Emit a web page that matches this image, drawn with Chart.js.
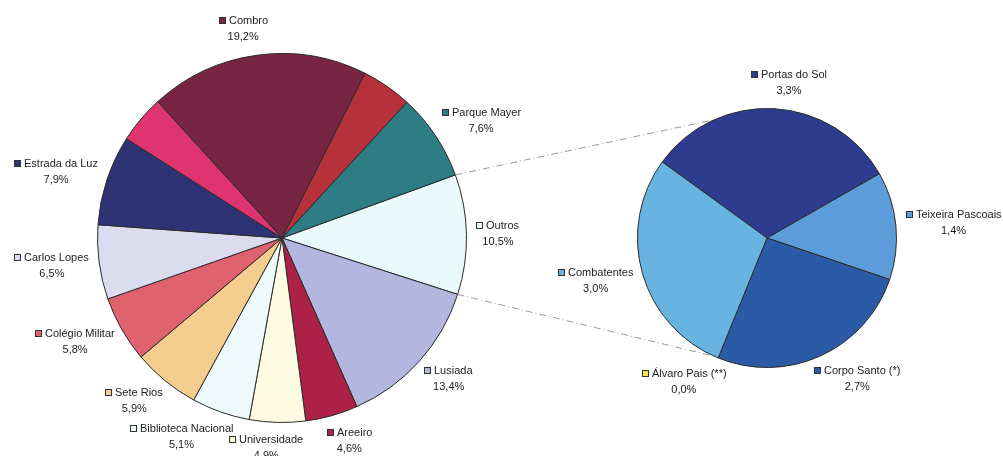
<!DOCTYPE html>
<html>
<head>
<meta charset="utf-8">
<script src="https://cdn.jsdelivr.net/npm/chart.js@4.4.1/dist/chart.umd.min.js"></script>
<style>
  html, body { margin: 0; padding: 0; background: #ffffff; }
  .wrap { position: relative; width: 1003px; height: 456px; }
  .wrap canvas { position: absolute; left: 0; top: 0; }
</style>
</head>
<body>
<div class="wrap">
  <canvas id="mainPie" width="1003" height="456"></canvas>
  <canvas id="subPie" width="1003" height="456"></canvas>
</div>
<script>
// Main pie (percent of total), clockwise starting at "Outros"
const mainLabels = ['Outros', 'Lusiada', 'Areeiro', 'Universidade', 'Biblioteca Nacional', 'Sete Rios',
  'Colégio Militar', 'Carlos Lopes', 'Estrada da Luz', '', 'Combro', '', 'Parque Mayer'];
const mainValues = [10.5, 13.4, 4.6, 4.9, 5.1, 5.9, 5.8, 6.5, 7.9, 4.2, 19.2, 4.4, 7.6];
const mainColors = ['#eaf9fc', '#b3b7e0', '#ad2148', '#fdfbe2', '#eef9fb', '#f5ce8e',
  '#e0626e', '#dcdcf1', '#2d3374', '#df3470', '#782544', '#b7313b', '#2e7c85'];

// Breakdown of "Outros"
const subLabels = ['Portas do Sol', 'Teixeira Pascoais', 'Corpo Santo (*)', 'Álvaro Pais (**)', 'Combatentes'];
const subValues = [3.3, 1.4, 2.7, 0.0, 3.0];
const subColors = ['#2e3c90', '#5c9cda', '#2b5ba6', '#f0e64a', '#67b4e0'];

const FONT = '11px "Liberation Sans", Arial, sans-serif';

function fmtPct(v) {
  return v.toFixed(1).replace('.', ',') + '%';
}

// Excel-like outside labels: key square + name, percent underneath
function drawLabels(chart, names, values, colors) {
  const ctx = chart.ctx;
  const meta = chart.getDatasetMeta(0);
  ctx.save();
  ctx.font = FONT;
  ctx.textBaseline = 'middle';
  meta.data.forEach((arc, i) => {
    if (!names[i]) return;
    const mid = (arc.startAngle + arc.endAngle) / 2;
    const c = Math.cos(mid), s = Math.sin(mid);
    const r = arc.outerRadius + 10;
    const px = arc.x + c * r, py = arc.y + s * r;
    const nameW = ctx.measureText(names[i]).width;
    const pct = fmtPct(values[i]);
    const pctW = ctx.measureText(pct).width;
    const line1W = 6 + 4 + nameW;
    const w = Math.max(line1W, pctW), h = 32;
    const cx = px + Math.cbrt(c) * w / 2;
    const cy = py + s * h / 2;

    const x0 = Math.round(cx - line1W / 2);
    const y1 = Math.round(cy - 8);
    ctx.fillStyle = colors[i];
    ctx.fillRect(x0 + 0.5, y1 - 3.5, 6, 6);
    ctx.strokeStyle = '#333333';
    ctx.lineWidth = 1;
    ctx.strokeRect(x0 + 0.5, y1 - 3.5, 6, 6);

    ctx.fillStyle = '#222222';
    ctx.textAlign = 'left';
    ctx.fillText(names[i], x0 + 10, y1);
    ctx.textAlign = 'center';
    ctx.fillText(pct, cx, y1 + 16);
  });
  ctx.restore();
}

const pieLabelsPlugin = {
  id: 'pieLabels',
  afterDraw(chart, args, opts) {
    drawLabels(chart, opts.names, opts.values, opts.colors);
  }
};

const commonOptions = {
  responsive: false,
  animation: false,
  events: [],
  plugins: { legend: { display: false }, tooltip: { enabled: false } }
};

const mainChart = new Chart(document.getElementById('mainPie').getContext('2d'), {
  type: 'pie',
  data: {
    labels: mainLabels,
    datasets: [{
      data: mainValues,
      backgroundColor: mainColors,
      borderColor: '#2a2a2a',
      borderWidth: 1
    }]
  },
  options: {
    ...commonOptions,
    rotation: 70,
    layout: { padding: { left: 97, top: 53, right: 536, bottom: 33 } },
    plugins: {
      ...commonOptions.plugins,
      pieLabels: { names: mainLabels, values: mainValues, colors: mainColors }
    }
  },
  plugins: [pieLabelsPlugin]
});

// Dashed connectors from the "Outros" slice to the second pie
const connectorPlugin = {
  id: 'connectors',
  beforeDraw(chart) {
    const outros = mainChart.getDatasetMeta(0).data[0];
    const sub = chart.getDatasetMeta(0).data[0];
    const R = outros.outerRadius, r = sub.outerRadius;
    const pairs = [
      [outros.startAngle, 246 * Math.PI / 180],
      [outros.endAngle, 114 * Math.PI / 180]
    ];
    const ctx = chart.ctx;
    ctx.save();
    ctx.strokeStyle = '#9a9a9a';
    ctx.lineWidth = 1;
    ctx.setLineDash([7, 3, 1, 3]);
    pairs.forEach(([a, b]) => {
      ctx.beginPath();
      ctx.moveTo(outros.x + Math.cos(a) * R, outros.y + Math.sin(a) * R);
      ctx.lineTo(sub.x + Math.cos(b) * r, sub.y + Math.sin(b) * r);
      ctx.stroke();
    });
    ctx.restore();
  }
};

new Chart(document.getElementById('subPie').getContext('2d'), {
  type: 'pie',
  data: {
    labels: subLabels,
    datasets: [{
      data: subValues,
      backgroundColor: subColors,
      borderColor: '#2a2a2a',
      borderWidth: 1
    }]
  },
  options: {
    ...commonOptions,
    rotation: 306,
    layout: { padding: { left: 637, top: 108, right: 106, bottom: 88 } },
    plugins: {
      ...commonOptions.plugins,
      pieLabels: { names: subLabels, values: subValues, colors: subColors }
    }
  },
  plugins: [connectorPlugin, pieLabelsPlugin]
});
</script>
</body>
</html>
